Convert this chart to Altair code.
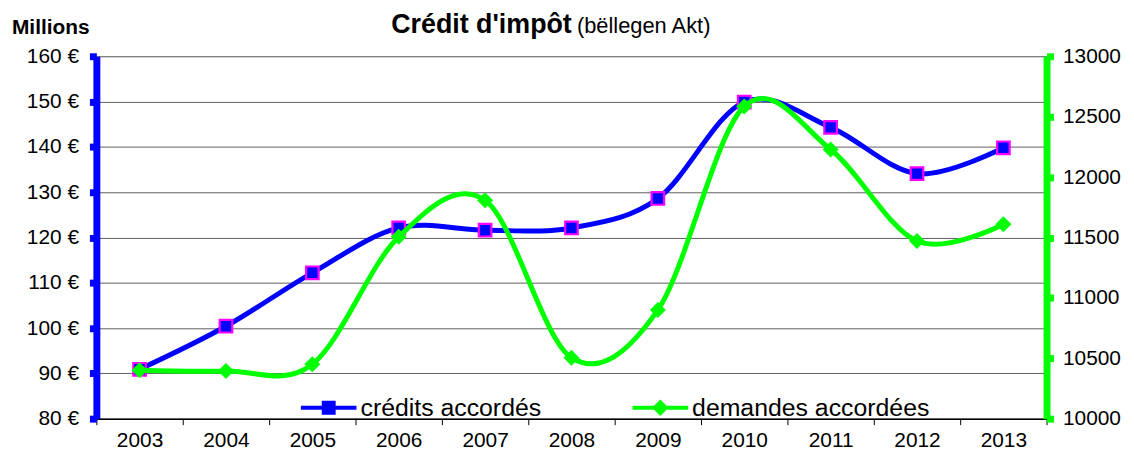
import altair as alt
import pandas as pd

years = ["2003", "2004", "2005", "2006", "2007", "2008", "2009", "2010", "2011", "2012", "2013"]
credits = [90.9, 100.4, 112.2, 122.1, 121.6, 122.1, 128.6, 149.9, 144.3, 134.1, 139.8]
demandes = [10400, 10395, 10450, 11505, 11808, 10505, 10900, 12585, 12228, 11470, 11610]
series_names = ["crédits accordés", "demandes accordées"]
left_ticks = [80, 90, 100, 110, 120, 130, 140, 150, 160]
right_ticks = [10000, 10500, 11000, 11500, 12000, 12500, 13000]
title_main = ["Crédit d'impôt"]
title_sub = ["(bëllegen Akt)"]
unit_label = ["Millions"]

FONT = "Liberation Sans"
BLUE = "#0000FF"
GREEN = "#00FF00"
MAGENTA = "#FF00FF"

df = pd.DataFrame({"year": years, "credits": credits, "demandes": demandes})
legend_df = pd.DataFrame({"series": series_names})

x_enc = alt.X(
    "year:O",
    scale=alt.Scale(type="band", paddingInner=0, paddingOuter=0),
    axis=alt.Axis(
        title=None, labelAngle=0, labelFont=FONT, labelFontSize=21, labelColor="black",
        domainColor="black", domainWidth=1.5, tickColor="black", tickSize=6, tickWidth=1,
        tickBand="extent", labelPadding=5, grid=False,
    ),
)

left_axis = alt.Axis(
    values=left_ticks, labelExpr="datum.value + ' €'", title=None,
    labelFont=FONT, labelFontSize=21, labelColor="black", labelPadding=11,
    domainColor=BLUE, domainWidth=7, tickColor=BLUE, tickWidth=7, tickSize=7,
    grid=True, gridColor="#606060", gridWidth=1,
)
right_axis = alt.Axis(
    values=right_ticks, format="d", title=None, orient="right",
    labelFont=FONT, labelFontSize=21, labelColor="black", labelPadding=9,
    domainColor=GREEN, domainWidth=7, tickColor=GREEN, tickWidth=7, tickSize=7,
    grid=False,
)

base = alt.Chart(df)
y_left = alt.Y("credits:Q", scale=alt.Scale(domain=[80, 160], nice=False, zero=False), axis=left_axis)
y_right = alt.Y("demandes:Q", scale=alt.Scale(domain=[10000, 13000], nice=False, zero=False), axis=right_axis)

line_c = base.mark_line(interpolate="cardinal", tension=0, strokeWidth=5, color=BLUE).encode(x=x_enc, y=y_left)
pts_c = base.mark_point(shape="square", filled=True, fill=BLUE, stroke=MAGENTA, strokeWidth=2.2,
                        size=160, opacity=1).encode(x=x_enc, y=y_left)
line_d = base.mark_line(interpolate="cardinal", tension=0, strokeWidth=5, color=GREEN).encode(x=x_enc, y=y_right)
pts_d = base.mark_point(shape="diamond", filled=True, color=GREEN, size=260, opacity=1).encode(x=x_enc, y=y_right)

path_sq = "M-1,-0.075L1,-0.075L1,0.075L-1,0.075Z M-0.25,-0.25L0.25,-0.25L0.25,0.25L-0.25,0.25Z"
path_di = "M-1,-0.075L1,-0.075L1,0.075L-1,0.075Z M0,-0.3L0.3,0L0,0.3L-0.3,0Z"

leg = alt.Legend(
    title=None, orient="none", legendX=206, legendY=326, direction="horizontal",
    labelFont=FONT, labelFontSize=25, labelColor="black", labelOffset=4, labelLimit=0,
    columnPadding=91, symbolSize=3136, symbolStrokeWidth=0, symbolOpacity=1, padding=0,
)
legend_layer = alt.Chart(legend_df).mark_point(filled=True, clip=True, opacity=1).encode(
    x=alt.value(-500), y=alt.value(-500),
    fill=alt.Fill("series:N", scale=alt.Scale(domain=series_names, range=[BLUE, GREEN]), legend=leg),
    shape=alt.Shape("series:N", scale=alt.Scale(domain=series_names, range=[path_sq, path_di]), legend=leg),
)

t_main = alt.Chart(pd.DataFrame({"t": title_main})).mark_text(
    font=FONT, fontSize=27, fontWeight="bold", align="left", baseline="alphabetic", color="black"
).encode(x=alt.value(297), y=alt.value(-23), text="t:N")
t_sub = alt.Chart(pd.DataFrame({"t": title_sub})).mark_text(
    font=FONT, fontSize=22, align="left", baseline="alphabetic", color="black"
).encode(x=alt.value(484), y=alt.value(-23), text="t:N")
t_unit = alt.Chart(pd.DataFrame({"t": unit_label})).mark_text(
    font=FONT, fontSize=21, fontWeight="bold", align="left", baseline="alphabetic", color="black"
).encode(x=alt.value(-85), y=alt.value(-22), text="t:N")

left = alt.layer(line_c, pts_c)
right = alt.layer(line_d, pts_d)

chart = alt.layer(left, right, legend_layer, t_main, t_sub, t_unit).resolve_scale(
    y="independent"
).properties(
    width=957, height=365,
    autosize=alt.AutoSizeParams(type="none"),
    padding={"left": 89, "top": 47, "right": 80, "bottom": 34},
).configure_view(stroke=None).configure(background="white")

chart.save("out.html", embed_options={"renderer": "svg", "actions": False})
